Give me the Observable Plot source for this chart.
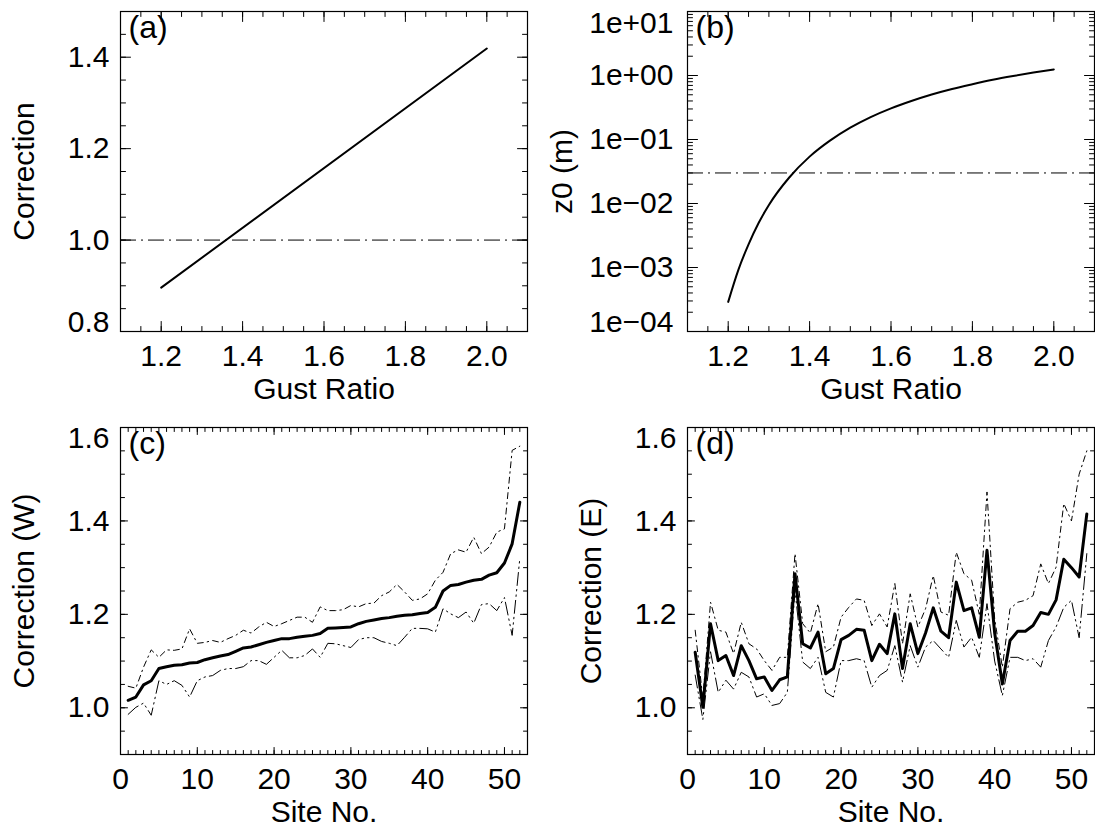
<!DOCTYPE html>
<html><head><meta charset="utf-8">
<script src="https://cdn.jsdelivr.net/npm/d3@7"></script>
<script src="https://cdn.jsdelivr.net/npm/@observablehq/plot@0.6"></script>
<style>
body{margin:0;background:#fff;}
#c{position:relative;width:1095px;height:828px;overflow:hidden;background:#fff;}
#c svg{position:absolute;overflow:visible;}
</style></head><body><div id="c"></div>
<script>
// ---------- data ----------
const gustA = [1.2, 2.0];
const corrA = [0.896, 1.419];
const refA = [1.0];

const gustB = [1.2, 1.225, 1.25, 1.275, 1.3, 1.35, 1.4, 1.45, 1.5, 1.55, 1.6, 1.65, 1.7, 1.75, 1.8, 1.85, 1.9, 1.95, 2.0];
const z0B = [0.00029, 0.00092, 0.0023, 0.0050, 0.0095, 0.0255, 0.054, 0.096, 0.153, 0.224, 0.307, 0.40, 0.505, 0.616, 0.73, 0.855, 0.98, 1.11, 1.24];
const refB = [0.03];

const sites = d3.range(1, 53);
const westMean = [1.016,1.023,1.049,1.058,1.084,1.088,1.091,1.092,1.096,1.097,1.103,1.107,1.111,1.114,1.121,1.128,1.130,1.135,1.140,1.144,1.148,1.148,1.151,1.153,1.155,1.159,1.170,1.171,1.172,1.173,1.180,1.185,1.188,1.191,1.193,1.196,1.198,1.199,1.202,1.204,1.215,1.250,1.262,1.264,1.269,1.273,1.275,1.284,1.289,1.310,1.351,1.440];
const westUpper = [1.046,1.042,1.087,1.124,1.108,1.124,1.123,1.126,1.169,1.138,1.140,1.144,1.140,1.148,1.155,1.166,1.160,1.173,1.183,1.174,1.180,1.187,1.194,1.194,1.183,1.216,1.208,1.208,1.210,1.219,1.216,1.223,1.224,1.240,1.248,1.264,1.248,1.230,1.233,1.244,1.273,1.290,1.330,1.338,1.333,1.365,1.330,1.344,1.376,1.383,1.551,1.560];
const westLower = [0.986,1.001,1.010,0.984,1.058,1.050,1.058,1.048,1.023,1.058,1.066,1.069,1.080,1.084,1.084,1.088,1.101,1.101,1.093,1.108,1.123,1.107,1.107,1.112,1.126,1.108,1.138,1.137,1.133,1.129,1.146,1.150,1.150,1.142,1.138,1.133,1.151,1.170,1.170,1.169,1.162,1.212,1.201,1.193,1.205,1.181,1.221,1.223,1.208,1.236,1.155,1.320];

const eastMean = [1.119,1.001,1.180,1.101,1.112,1.069,1.133,1.101,1.062,1.066,1.037,1.060,1.066,1.287,1.137,1.128,1.162,1.073,1.084,1.146,1.155,1.168,1.166,1.101,1.136,1.116,1.201,1.084,1.180,1.116,1.160,1.214,1.164,1.150,1.269,1.208,1.214,1.151,1.337,1.160,1.051,1.144,1.164,1.164,1.176,1.204,1.200,1.231,1.318,1.300,1.280,1.415];
const eastUpper = [1.166,1.020,1.226,1.166,1.162,1.116,1.183,1.137,1.126,1.101,1.080,1.108,1.108,1.330,1.180,1.160,1.223,1.120,1.130,1.194,1.215,1.233,1.230,1.176,1.201,1.173,1.266,1.137,1.244,1.173,1.212,1.283,1.205,1.198,1.333,1.287,1.273,1.200,1.462,1.190,1.087,1.212,1.226,1.230,1.240,1.308,1.266,1.301,1.437,1.400,1.500,1.550];
const eastLower = [1.070,0.975,1.120,1.033,1.059,1.040,1.076,1.066,1.023,1.030,1.005,1.009,1.033,1.251,1.098,1.084,1.108,1.033,1.023,1.101,1.101,1.105,1.101,1.044,1.069,1.080,1.133,1.055,1.133,1.087,1.130,1.144,1.126,1.108,1.187,1.130,1.151,1.108,1.223,1.100,1.026,1.108,1.108,1.101,1.105,1.087,1.144,1.173,1.215,1.230,1.150,1.330];

// tick values / labels
const gustTicks = [1.2, 1.4, 1.6, 1.8, 2.0];
const gustMinor = d3.range(22, 43).map(i => i / 20);
const corrTicksA = [0.8, 1.0, 1.2, 1.4];
const corrMinorA = d3.range(16, 31).map(i => i / 20);
const z0Ticks = [1e-4, 1e-3, 1e-2, 1e-1, 1, 10];
const z0Labels = ["1e\u221204", "1e\u221203", "1e\u221202", "1e\u221201", "1e+00", "1e+01"];
const z0Minor = [1e-4, 1e-3, 1e-2, 1e-1, 1].flatMap(d => [2,3,4,5,6,7,8,9].map(m => m * d));
const siteTicks = [0, 10, 20, 30, 40, 50];
const siteMinor = d3.range(0, 54);
const corrTicksC = [1.0, 1.2, 1.4, 1.6];
const corrMinorC = d3.range(18, 33).map(i => i / 20);

// ---------- helpers ----------
const FONT = "'Liberation Sans', Arial, Helvetica, sans-serif";
const FS = 30;
const root = document.getElementById("c");
const tickShape = {draw(ctx, l) { ctx.moveTo(0, 0); ctx.lineTo(0, -l); }};

function ticks(data, ch, len) {
  const o = (fa, rot) => Plot.vector(data, {[ch]: d => d, frameAnchor: fa, rotate: rot, length: len, anchor: "start", shape: tickShape, stroke: "#000", strokeWidth: 1});
  return ch === "x" ? [o("bottom", 0), o("top", 180)] : [o("left", 90), o("right", 270)];
}

function xLabels(vals, fmt) {
  return Plot.text(vals, {x: d => d, frameAnchor: "bottom", dy: 25, text: fmt, fontSize: FS, lineAnchor: "middle", textAnchor: "middle"});
}
function yLabels(vals, texts, dx, dy = 0) {
  return Plot.text(vals, {y: d => d, frameAnchor: "left", dx, dy, text: (d, i) => texts[i], textAnchor: "end", fontSize: FS, lineAnchor: "middle"});
}
function yTitle(t, dx) {
  return Plot.text([t], {frameAnchor: "left", dx, rotate: -90, fontSize: FS, textAnchor: "middle", lineAnchor: "middle"});
}
function xTitle(t) {
  return Plot.text([t], {frameAnchor: "bottom", dy: 58, fontSize: FS, textAnchor: "middle", lineAnchor: "middle"});
}
function tagText(t) {
  return Plot.text([t], {frameAnchor: "top-left", dx: 8, dy: 16, textAnchor: "start", fontSize: 32, lineAnchor: "middle"});
}

function panel(pos, scales, marks) {
  const svg = Plot.plot({
    width: pos.width, height: pos.height,
    marginTop: pos.mt, marginBottom: pos.mb, marginLeft: pos.ml, marginRight: pos.mr,
    x: {...scales.x, axis: null},
    y: {...scales.y, axis: null},
    style: {fontFamily: FONT, fontSize: FS + "px", color: "#000", background: "transparent", overflow: "visible"},
    marks: [Plot.frame({stroke: "#000", strokeWidth: 1.2}), ...marks]
  });
  svg.style.left = pos.left + "px";
  svg.style.top = pos.top + "px";
  root.appendChild(svg);
}

const posTL = {left: 0, top: 0, width: 547, height: 420, mt: 11, mb: 89, ml: 120, mr: 20};
const posTR = {left: 560, top: 0, width: 535, height: 420, mt: 11, mb: 89, ml: 127, mr: 1};
const posBL = {left: 0, top: 416, width: 547, height: 412, mt: 11, mb: 74, ml: 120, mr: 20};
const posBR = {left: 560, top: 416, width: 535, height: 412, mt: 11, mb: 74, ml: 127, mr: 1};

const fmt1 = d => d.toFixed(1);
const refDash = "16,5,2,5";
const upDash = "6,4,1.5,4";
const loDash = "13,4,1.5,4,1.5,4";

// ---------- (a) ----------
panel(posTL, {x: {domain: [1.1, 2.1]}, y: {domain: [0.8, 1.5]}}, [
  ...ticks(gustMinor, "x", 5), ...ticks(gustTicks, "x", 10),
  ...ticks(corrMinorA, "y", 5), ...ticks(corrTicksA, "y", 10),
  Plot.ruleY(refA, {stroke: "#000", strokeWidth: 1, strokeDasharray: refDash}),
  Plot.line(gustA.map((g, i) => ({g, c: corrA[i]})), {x: "g", y: "c", stroke: "#000", strokeWidth: 2}),
  xLabels(gustTicks, fmt1),
  yLabels(corrTicksA.slice(1), corrTicksA.slice(1).map(fmt1), -11),
  yLabels(corrTicksA.slice(0, 1), ["0.8"], -11, -9),
  xTitle("Gust Ratio"),
  yTitle("Correction", -96),
  tagText("(a)")
]);

// ---------- (b) ----------
panel(posTR, {x: {domain: [1.1, 2.1]}, y: {type: "log", domain: [1e-4, 10]}}, [
  ...ticks(gustMinor, "x", 5), ...ticks(gustTicks, "x", 10),
  ...ticks(z0Minor, "y", 5), ...ticks(z0Ticks, "y", 10),
  Plot.ruleY(refB, {stroke: "#000", strokeWidth: 1, strokeDasharray: refDash}),
  Plot.line(gustB.map((g, i) => ({g, z: z0B[i]})), {x: "g", y: "z", stroke: "#000", strokeWidth: 2, curve: "monotone-x"}),
  xLabels(gustTicks, fmt1),
  yLabels(z0Ticks.slice(1, 5), z0Labels.slice(1, 5), -14),
  yLabels([z0Ticks[0]], [z0Labels[0]], -14, -9),
  yLabels([z0Ticks[5]], [z0Labels[5]], -14, 12),
  xTitle("Gust Ratio"),
  yTitle("z0 (m)", -125),
  tagText("(b)")
]);

// ---------- (c), (d) ----------
function sitePanel(pos, mean, upper, lower, ytitle, tag, titleDx) {
  const rows = sites.map((s, i) => ({s, m: mean[i], u: upper[i], l: lower[i]}));
  panel(pos, {x: {domain: [0, 53]}, y: {domain: [0.9, 1.6]}}, [
    ...ticks(siteMinor, "x", 4), ...ticks(siteTicks, "x", 7),
    ...ticks(corrMinorC, "y", 4), ...ticks(corrTicksC, "y", 7),
    Plot.line(rows, {x: "s", y: "u", stroke: "#000", strokeWidth: 1, strokeDasharray: upDash}),
    Plot.line(rows, {x: "s", y: "l", stroke: "#000", strokeWidth: 1, strokeDasharray: loDash}),
    Plot.line(rows, {x: "s", y: "m", stroke: "#000", strokeWidth: 3, strokeLinejoin: "round"}),
    xLabels(siteTicks, d => String(d)),
    yLabels(corrTicksC.slice(0, 3), corrTicksC.slice(0, 3).map(fmt1), -11),
    yLabels([corrTicksC[3]], ["1.6"], -11, 11),
    xTitle("Site No."),
    yTitle(ytitle, titleDx),
    tagText(tag)
  ]);
}
sitePanel(posBL, westMean, westUpper, westLower, "Correction (W)", "(c)", -96);
sitePanel(posBR, eastMean, eastUpper, eastLower, "Correction (E)", "(d)", -96);
</script></body></html>
